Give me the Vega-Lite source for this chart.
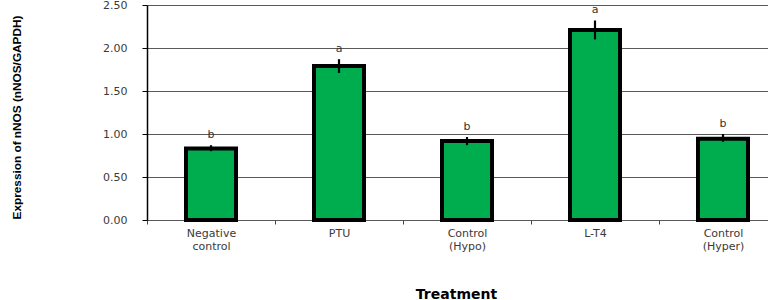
{
  "$schema": "https://vega.github.io/schema/vega-lite/v6.json",
  "autosize": {"type": "none"},
  "width": 611,
  "height": 215,
  "padding": {"left": 147, "top": 5, "right": 10, "bottom": 80},
  "background": "white",
  "data": {
    "values": [
      {"treatment": "Negative control", "mean": 0.83, "lo": 0.80, "hi": 0.87, "letter": "b"},
      {"treatment": "PTU", "mean": 1.79, "lo": 1.71, "hi": 1.87, "letter": "a"},
      {"treatment": "Control (Hypo)", "mean": 0.92, "lo": 0.87, "hi": 0.965, "letter": "b"},
      {"treatment": "L-T4", "mean": 2.21, "lo": 2.10, "hi": 2.32, "letter": "a"},
      {"treatment": "Control (Hyper)", "mean": 0.945, "lo": 0.91, "hi": 1.00, "letter": "b"}
    ]
  },
  "config": {
    "view": {"stroke": null},
    "font": "DejaVu Sans",
    "axis": {"labelFont": "DejaVu Sans", "labelFontSize": 11, "labelColor": "#3a3a3a"}
  },
  "encoding": {
    "x": {
      "field": "treatment",
      "type": "nominal",
      "sort": null,
      "scale": {"range": [0, 640], "paddingInner": 0, "paddingOuter": 0},
      "axis": {
        "title": "Treatment",
        "titleFont": "DejaVu Sans",
        "titleFontSize": 14,
        "titleFontWeight": "bold",
        "titleColor": "#000",
        "titleX": 309,
        "titleY": 74,
        "titleBaseline": "middle",
        "titleAlign": "center",
        "labelAngle": 0,
        "labelExpr": "split(datum.label, ' ')",
        "labelLineHeight": 13,
        "labelPadding": 3,
        "labelBaseline": "top",
        "tickBand": "extent",
        "tickSize": 4,
        "tickColor": "#444",
        "tickWidth": 1,
        "domain": false,
        "grid": false
      }
    }
  },
  "layer": [
    {
      "mark": {"type": "bar", "size": 50, "color": "#00AD4E", "stroke": "#000", "strokeWidth": 4},
      "encoding": {
        "y": {
          "field": "mean",
          "type": "quantitative",
          "scale": {"domain": [0, 2.5], "nice": false},
          "axis": {
            "title": "Expression of nNOS (nNOS/GAPDH)",
            "titleFont": "Liberation Sans",
            "titleFontSize": 11.8,
            "titleFontWeight": "bold",
            "titleColor": "#000",
            "titleAngle": 270,
            "titleX": -131,
            "titleY": 112,
            "titleBaseline": "middle",
            "titleAlign": "center",
            "values": [0, 0.5, 1, 1.5, 2, 2.5],
            "format": ".2f",
            "labelPadding": 15,
            "tickSize": 5,
            "tickColor": "#000",
            "domainColor": "#000",
            "domainWidth": 1.5,
            "grid": true,
            "gridColor": "#5a5a5a",
            "gridWidth": 1
          }
        }
      }
    },
    {
      "mark": {"type": "rule", "color": "#000", "strokeWidth": 2.2},
      "encoding": {
        "y": {"field": "lo", "type": "quantitative"},
        "y2": {"field": "hi"}
      }
    },
    {
      "mark": {"type": "text", "fontSize": 11, "color": "#333", "baseline": "alphabetic", "dy": -7},
      "encoding": {
        "y": {"field": "hi", "type": "quantitative"},
        "text": {"field": "letter"}
      }
    }
  ]
}
